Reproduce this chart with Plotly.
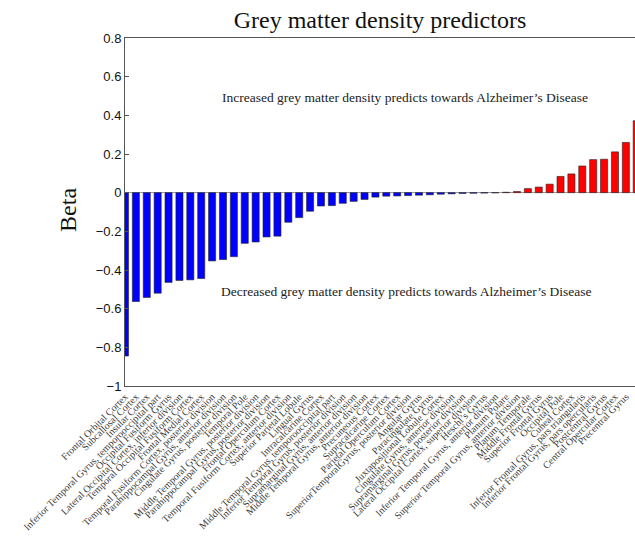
import plotly.graph_objects as go

regions = [
    "Frontal Orbital Cortex", "Subcallosal Cortex", "Insular Cortex",
    "Inferior Temporal Gyrus, temporooccipital part", "Occipital Fusiform Gyrus",
    "Lateral Occipital Cortex, inferior division", "Temporal Occipital Fusiform Cortex",
    "Frontal Medial Cortex", "Temporal Fusiform Cortex, posterior division",
    "Parahippocampal Gyrus, anterior division", "Cingulate Gyrus, posterior division",
    "Temporal Pole", "Middle Temporal Gyrus, posterior division",
    "Parahippocampal Gyrus, posterior division", "Frontal Operculum Cortex",
    "Temporal Fusiform Cortex, anterior division", "Superior Parietal Lobule",
    "Lingual Gyrus", "Intracalcarine Cortex",
    "Middle Temporal Gyrus, temporooccipital part", "Inferior Temporal Gyrus, posterior division",
    "Supramarginal Gyrus, anterior division", "Middle Temporal Gyrus, anterior division",
    "Precuneous Cortex", "Supracalcarine Cortex", "Parietal Operculum Cortex",
    "SuperiorTemporalGyrus, posterior division", "Angular Gyrus", "Paracingulate Gyrus",
    "Juxtapositional Lobule Cortex", "Cingulate Gyrus, anterior division",
    "Supramarginal Gyrus, posterior division", "Lateral Occipital Cortex, superior division",
    "Heschl\u2019s Gyrus", "Inferior Temporal Gyrus, anterior division", "Planum Polare",
    "Superior Temporal Gyrus, anterior division", "Planum Temporale", "Middle Frontal Gyrus",
    "Superior Frontal Gyrus", "Occipital Pole", "Cuneal Cortex",
    "Inferior Frontal Gyrus, pars triangularis", "Inferior Frontal Gyrus, pars opercularis",
    "Postcentral Gyrus", "Central Opercular Cortex", "Precentral Gyrus", "Frontal Pole",
]

beta = [
    -0.845, -0.563, -0.542, -0.520, -0.464, -0.454, -0.451, -0.444,
    -0.353, -0.346, -0.331, -0.262, -0.255, -0.229, -0.225, -0.153,
    -0.129, -0.096, -0.069, -0.067, -0.055, -0.045, -0.035, -0.023,
    -0.018, -0.017, -0.015, -0.013, -0.011, -0.008, -0.006, -0.004,
    -0.003, -0.002, -0.001, 0.002, 0.006, 0.021, 0.029, 0.044,
    0.084, 0.097, 0.138, 0.171, 0.173, 0.211, 0.260, 0.372,
]

y_ticks = [0.8, 0.6, 0.4, 0.2, 0, -0.2, -0.4, -0.6, -0.8, -1]
y_tick_text = ["0.8", "0.6", "0.4", "0.2", "0", "\u22120.2", "\u22120.4", "\u22120.6", "\u22120.8", "\u22121"]

colors = ["#ff0000" if v > 0 else "#0000ff" for v in beta]

fig = go.Figure(go.Bar(
    x=regions, y=beta, width=0.65,
    marker=dict(color=colors, line=dict(color="#222222", width=0.6)),
))

serif = "Liberation Serif, Times New Roman, serif"
sans = "Liberation Sans, Arial, sans-serif"

fig.update_layout(
    width=635, height=537,
    margin=dict(l=125, r=0, t=38, b=151, autoexpand=False),
    plot_bgcolor="white", paper_bgcolor="white",
    showlegend=False,
    title=dict(text="Grey matter density predictors", x=0.5, xref="paper",
               y=1 - 20 / 537, yref="container", xanchor="center", yanchor="middle",
               font=dict(family=serif, size=24, color="#111111")),
    xaxis=dict(
        type="category", range=[0, 46.84], tickangle=-45,
        tickmode="linear", tick0=0, dtick=1,
        tickfont=dict(family=serif, size=10, color="#3a3a3a"),
        showline=True, linecolor="#555555", linewidth=1, mirror=True,
        showgrid=False, ticks="", automargin=False,
    ),
    yaxis=dict(
        range=[-1, 0.8], tickvals=y_ticks, ticktext=y_tick_text,
        tickfont=dict(family=sans, size=13, color="#111111"),
        showline=True, linecolor="#555555", linewidth=1,
        showgrid=False, ticks="inside", ticklen=4, tickcolor="#555555",
        zeroline=True, zerolinecolor="#999999", zerolinewidth=1,
        automargin=False,
    ),
    annotations=[
        dict(text="Beta", xref="paper", yref="paper", x=(68 - 125) / 510, y=0.506,
             textangle=-90, showarrow=False, xanchor="center", yanchor="middle",
             font=dict(family=serif, size=24, color="#111111")),
        dict(text="Increased grey matter density predicts towards Alzheimer\u2019s Disease",
             xref="paper", yref="paper", x=0.549, y=0.828, showarrow=False,
             xanchor="center", yanchor="middle",
             font=dict(family=serif, size=13.5, color="#222222")),
        dict(text="Decreased grey matter density predicts towards Alzheimer\u2019s Disease",
             xref="paper", yref="paper", x=0.551, y=0.271, showarrow=False,
             xanchor="center", yanchor="middle",
             font=dict(family=serif, size=13.5, color="#222222")),
    ],
)

fig.write_html("out.html")
